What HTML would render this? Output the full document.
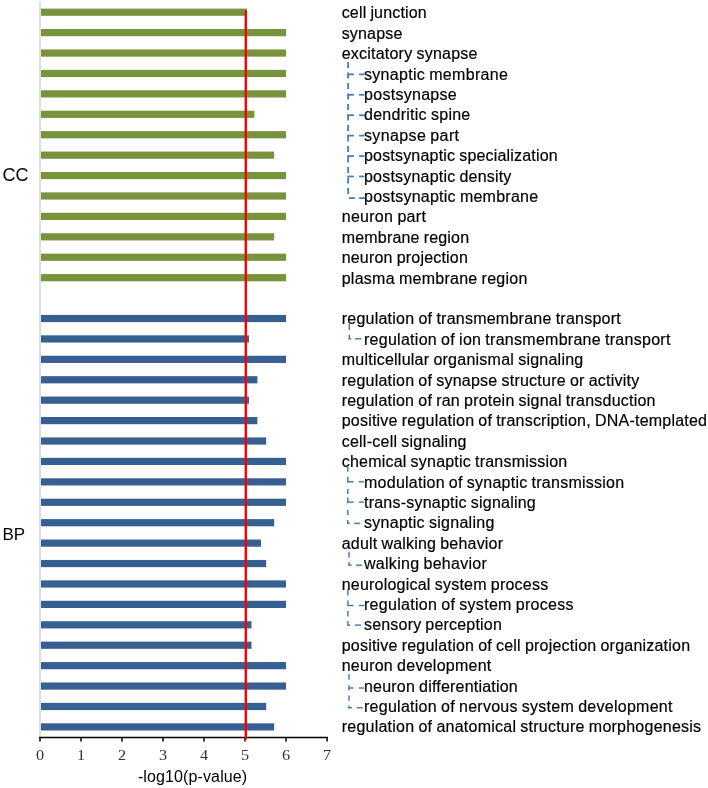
<!DOCTYPE html>
<html><head><meta charset="utf-8"><style>
html,body{margin:0;padding:0;background:#fff;}
body{width:708px;height:788px;position:relative;overflow:hidden;}
svg{position:absolute;left:0;top:0;}
.t{position:absolute;font-family:"Liberation Sans",sans-serif;font-size:16px;line-height:20px;word-spacing:-0.6px;white-space:nowrap;color:#000;-webkit-text-stroke:0.2px #000;}
.n{position:absolute;width:40px;text-align:center;font-family:"Liberation Serif",serif;font-size:14.5px;line-height:16px;color:#333;transform:scaleX(1.12);}
.g{position:absolute;font-family:"Liberation Sans",sans-serif;font-size:18px;line-height:20px;color:#000;}
.x{position:absolute;font-family:"Liberation Sans",sans-serif;font-size:16px;line-height:20px;color:#000;white-space:nowrap;letter-spacing:0.12px;}
</style></head><body>
<svg width="708" height="788" viewBox="0 0 708 788">
<rect x="40" y="8.61" width="207.00" height="7.2" fill="#77933C"/>
<rect x="40" y="29.03" width="246.00" height="7.2" fill="#77933C"/>
<rect x="40" y="49.45" width="246.00" height="7.2" fill="#77933C"/>
<rect x="40" y="69.87" width="246.00" height="7.2" fill="#77933C"/>
<rect x="40" y="90.29" width="246.00" height="7.2" fill="#77933C"/>
<rect x="40" y="110.71" width="214.40" height="7.2" fill="#77933C"/>
<rect x="40" y="131.13" width="246.00" height="7.2" fill="#77933C"/>
<rect x="40" y="151.55" width="234.20" height="7.2" fill="#77933C"/>
<rect x="40" y="171.97" width="246.00" height="7.2" fill="#77933C"/>
<rect x="40" y="192.39" width="246.00" height="7.2" fill="#77933C"/>
<rect x="40" y="212.81" width="246.00" height="7.2" fill="#77933C"/>
<rect x="40" y="233.23" width="234.20" height="7.2" fill="#77933C"/>
<rect x="40" y="253.65" width="246.00" height="7.2" fill="#77933C"/>
<rect x="40" y="274.07" width="246.00" height="7.2" fill="#77933C"/>
<rect x="40" y="314.91" width="246.00" height="7.2" fill="#376092"/>
<rect x="40" y="335.33" width="209.00" height="7.2" fill="#376092"/>
<rect x="40" y="355.75" width="246.00" height="7.2" fill="#376092"/>
<rect x="40" y="376.17" width="217.40" height="7.2" fill="#376092"/>
<rect x="40" y="396.59" width="209.00" height="7.2" fill="#376092"/>
<rect x="40" y="417.01" width="217.40" height="7.2" fill="#376092"/>
<rect x="40" y="437.43" width="226.20" height="7.2" fill="#376092"/>
<rect x="40" y="457.85" width="246.00" height="7.2" fill="#376092"/>
<rect x="40" y="478.27" width="246.00" height="7.2" fill="#376092"/>
<rect x="40" y="498.69" width="246.00" height="7.2" fill="#376092"/>
<rect x="40" y="519.11" width="234.20" height="7.2" fill="#376092"/>
<rect x="40" y="539.53" width="221.00" height="7.2" fill="#376092"/>
<rect x="40" y="559.95" width="226.20" height="7.2" fill="#376092"/>
<rect x="40" y="580.37" width="246.00" height="7.2" fill="#376092"/>
<rect x="40" y="600.79" width="246.00" height="7.2" fill="#376092"/>
<rect x="40" y="621.21" width="211.50" height="7.2" fill="#376092"/>
<rect x="40" y="641.63" width="211.50" height="7.2" fill="#376092"/>
<rect x="40" y="662.05" width="246.00" height="7.2" fill="#376092"/>
<rect x="40" y="682.47" width="246.00" height="7.2" fill="#376092"/>
<rect x="40" y="702.89" width="226.20" height="7.2" fill="#376092"/>
<rect x="40" y="723.31" width="234.20" height="7.2" fill="#376092"/>
<rect x="39" y="1.5" width="2" height="736" fill="#DDDDDD"/>
<line x1="39.2" y1="737.4" x2="327.8" y2="737.4" stroke="#000" stroke-width="1.5"/>
<line x1="40.00" y1="737" x2="40.00" y2="741.5" stroke="#000" stroke-width="1.5"/>
<line x1="81.00" y1="737" x2="81.00" y2="741.5" stroke="#000" stroke-width="1.5"/>
<line x1="122.00" y1="737" x2="122.00" y2="741.5" stroke="#000" stroke-width="1.5"/>
<line x1="163.00" y1="737" x2="163.00" y2="741.5" stroke="#000" stroke-width="1.5"/>
<line x1="204.00" y1="737" x2="204.00" y2="741.5" stroke="#000" stroke-width="1.5"/>
<line x1="245.00" y1="737" x2="245.00" y2="741.5" stroke="#000" stroke-width="1.5"/>
<line x1="286.00" y1="737" x2="286.00" y2="741.5" stroke="#000" stroke-width="1.5"/>
<line x1="327.10" y1="737" x2="327.10" y2="741.5" stroke="#000" stroke-width="1.5"/>
<line x1="245.8" y1="11.5" x2="245.8" y2="738.5" stroke="#FF0000" stroke-width="2.4" stroke-linecap="round"/>
<line x1="348.1" y1="62.0" x2="348.1" y2="68.0" stroke="#4A7EBB" stroke-width="1.8"/>
<line x1="348.1" y1="72.5" x2="348.1" y2="78.5" stroke="#4A7EBB" stroke-width="1.8"/>
<line x1="348.1" y1="83.0" x2="348.1" y2="89.0" stroke="#4A7EBB" stroke-width="1.8"/>
<line x1="348.1" y1="93.5" x2="348.1" y2="99.5" stroke="#4A7EBB" stroke-width="1.8"/>
<line x1="348.1" y1="104.0" x2="348.1" y2="110.0" stroke="#4A7EBB" stroke-width="1.8"/>
<line x1="348.1" y1="114.5" x2="348.1" y2="120.5" stroke="#4A7EBB" stroke-width="1.8"/>
<line x1="348.1" y1="125.0" x2="348.1" y2="131.0" stroke="#4A7EBB" stroke-width="1.8"/>
<line x1="348.1" y1="135.5" x2="348.1" y2="141.5" stroke="#4A7EBB" stroke-width="1.8"/>
<line x1="348.1" y1="146.0" x2="348.1" y2="152.0" stroke="#4A7EBB" stroke-width="1.8"/>
<line x1="348.1" y1="156.5" x2="348.1" y2="162.5" stroke="#4A7EBB" stroke-width="1.8"/>
<line x1="348.1" y1="167.0" x2="348.1" y2="173.0" stroke="#4A7EBB" stroke-width="1.8"/>
<line x1="348.1" y1="177.5" x2="348.1" y2="183.5" stroke="#4A7EBB" stroke-width="1.8"/>
<line x1="348.1" y1="188.0" x2="348.1" y2="194.0" stroke="#4A7EBB" stroke-width="1.8"/>
<line x1="347.2" y1="74.37" x2="353.9" y2="74.37" stroke="#4A7EBB" stroke-width="1.8"/>
<line x1="359.1" y1="74.37" x2="364.4" y2="74.37" stroke="#4A7EBB" stroke-width="1.8"/>
<line x1="347.2" y1="94.79000000000002" x2="353.9" y2="94.79000000000002" stroke="#4A7EBB" stroke-width="1.8"/>
<line x1="359.1" y1="94.79000000000002" x2="364.4" y2="94.79000000000002" stroke="#4A7EBB" stroke-width="1.8"/>
<line x1="347.2" y1="115.21000000000001" x2="353.9" y2="115.21000000000001" stroke="#4A7EBB" stroke-width="1.8"/>
<line x1="359.1" y1="115.21000000000001" x2="364.4" y2="115.21000000000001" stroke="#4A7EBB" stroke-width="1.8"/>
<line x1="347.2" y1="135.63000000000002" x2="353.9" y2="135.63000000000002" stroke="#4A7EBB" stroke-width="1.8"/>
<line x1="359.1" y1="135.63000000000002" x2="364.4" y2="135.63000000000002" stroke="#4A7EBB" stroke-width="1.8"/>
<line x1="347.2" y1="156.05" x2="353.9" y2="156.05" stroke="#4A7EBB" stroke-width="1.8"/>
<line x1="359.1" y1="156.05" x2="364.4" y2="156.05" stroke="#4A7EBB" stroke-width="1.8"/>
<line x1="347.2" y1="176.47000000000003" x2="353.9" y2="176.47000000000003" stroke="#4A7EBB" stroke-width="1.8"/>
<line x1="359.1" y1="176.47000000000003" x2="364.4" y2="176.47000000000003" stroke="#4A7EBB" stroke-width="1.8"/>
<line x1="348.9" y1="198.1" x2="354.9" y2="198.1" stroke="#4A7EBB" stroke-width="1.8"/>
<line x1="359.1" y1="198.1" x2="365.0" y2="198.1" stroke="#4A7EBB" stroke-width="1.8"/>
<line x1="349.3" y1="323.8" x2="349.3" y2="330" stroke="#4A7EBB" stroke-width="1.5"/>
<line x1="349.3" y1="334.8" x2="349.3" y2="339.4" stroke="#4A7EBB" stroke-width="1.5"/>
<line x1="348.6" y1="338.8" x2="351.2" y2="338.8" stroke="#4A7EBB" stroke-width="1.5"/>
<line x1="355" y1="338.8" x2="361.4" y2="338.8" stroke="#4A7EBB" stroke-width="1.5"/>
<line x1="347.8" y1="466.7" x2="347.8" y2="471.8" stroke="#4A7EBB" stroke-width="1.5"/>
<line x1="347.8" y1="476.8" x2="347.8" y2="482.4" stroke="#4A7EBB" stroke-width="1.5"/>
<line x1="347.8" y1="489" x2="347.8" y2="494" stroke="#4A7EBB" stroke-width="1.5"/>
<line x1="347.8" y1="497.6" x2="347.8" y2="503.2" stroke="#4A7EBB" stroke-width="1.5"/>
<line x1="347.8" y1="509.8" x2="347.8" y2="514.9" stroke="#4A7EBB" stroke-width="1.5"/>
<line x1="347.8" y1="520" x2="347.8" y2="524" stroke="#4A7EBB" stroke-width="1.5"/>
<line x1="347.1" y1="481.8" x2="353.7" y2="481.8" stroke="#4A7EBB" stroke-width="1.5"/>
<line x1="358.8" y1="481.8" x2="363.9" y2="481.8" stroke="#4A7EBB" stroke-width="1.5"/>
<line x1="347.1" y1="502.1" x2="353.7" y2="502.1" stroke="#4A7EBB" stroke-width="1.5"/>
<line x1="358.8" y1="502.1" x2="363.9" y2="502.1" stroke="#4A7EBB" stroke-width="1.5"/>
<line x1="347.1" y1="523.4" x2="349.8" y2="523.4" stroke="#4A7EBB" stroke-width="1.5"/>
<line x1="354.2" y1="523.4" x2="360.3" y2="523.4" stroke="#4A7EBB" stroke-width="1.5"/>
<line x1="349" y1="551.7" x2="349" y2="557.8" stroke="#4A7EBB" stroke-width="1.5"/>
<line x1="349" y1="562" x2="349" y2="565.8" stroke="#4A7EBB" stroke-width="1.5"/>
<line x1="348.3" y1="565.2" x2="351.7" y2="565.2" stroke="#4A7EBB" stroke-width="1.5"/>
<line x1="356.1" y1="565.2" x2="362.2" y2="565.2" stroke="#4A7EBB" stroke-width="1.5"/>
<line x1="347.9" y1="589" x2="347.9" y2="595.6" stroke="#4A7EBB" stroke-width="1.5"/>
<line x1="347.9" y1="600.4" x2="347.9" y2="605.8" stroke="#4A7EBB" stroke-width="1.5"/>
<line x1="347.9" y1="610.9" x2="347.9" y2="616.6" stroke="#4A7EBB" stroke-width="1.5"/>
<line x1="347.9" y1="621" x2="347.9" y2="625.8" stroke="#4A7EBB" stroke-width="1.5"/>
<line x1="347.2" y1="605.5" x2="353.6" y2="605.5" stroke="#4A7EBB" stroke-width="1.5"/>
<line x1="359" y1="605.5" x2="364.4" y2="605.5" stroke="#4A7EBB" stroke-width="1.5"/>
<line x1="347.2" y1="625.1" x2="350.2" y2="625.1" stroke="#4A7EBB" stroke-width="1.5"/>
<line x1="354.9" y1="625.1" x2="360.9" y2="625.1" stroke="#4A7EBB" stroke-width="1.5"/>
<line x1="349" y1="674" x2="349" y2="679.8" stroke="#4A7EBB" stroke-width="1.5"/>
<line x1="349" y1="685.2" x2="349" y2="690.5" stroke="#4A7EBB" stroke-width="1.5"/>
<line x1="349" y1="695.5" x2="349" y2="700.8" stroke="#4A7EBB" stroke-width="1.5"/>
<line x1="349" y1="705.4" x2="349" y2="708.4" stroke="#4A7EBB" stroke-width="1.5"/>
<line x1="348.3" y1="688" x2="353.6" y2="688" stroke="#4A7EBB" stroke-width="1.5"/>
<line x1="359" y1="688" x2="364" y2="688" stroke="#4A7EBB" stroke-width="1.5"/>
<line x1="348.3" y1="707.7" x2="352.1" y2="707.7" stroke="#4A7EBB" stroke-width="1.5"/>
<line x1="356.7" y1="707.7" x2="362.8" y2="707.7" stroke="#4A7EBB" stroke-width="1.5"/>
</svg>
<div style="position:absolute;left:0;top:0;width:708px;height:788px;will-change:transform">
<div class="t" style="top:3.45px;left:341.7px;letter-spacing:0.167px">cell junction</div>
<div class="t" style="top:23.85px;left:341.7px;letter-spacing:0.167px">synapse</div>
<div class="t" style="top:44.25px;left:341.7px;letter-spacing:0.224px">excitatory synapse</div>
<div class="t" style="top:64.65px;left:364.0px;letter-spacing:0.300px">synaptic membrane</div>
<div class="t" style="top:85.05px;left:364.0px;letter-spacing:0.290px">postsynapse</div>
<div class="t" style="top:105.45px;left:364.0px;letter-spacing:0.264px">dendritic spine</div>
<div class="t" style="top:125.85px;left:364.0px;letter-spacing:0.364px">synapse part</div>
<div class="t" style="top:146.25px;left:364.0px;letter-spacing:0.188px">postsynaptic specialization</div>
<div class="t" style="top:166.65px;left:364.0px;letter-spacing:0.205px">postsynaptic density</div>
<div class="t" style="top:187.05px;left:364.0px;letter-spacing:0.240px">postsynaptic membrane</div>
<div class="t" style="top:207.45px;left:341.7px;letter-spacing:0.290px">neuron part</div>
<div class="t" style="top:227.85px;left:341.7px;letter-spacing:0.186px">membrane region</div>
<div class="t" style="top:248.25px;left:341.7px;letter-spacing:0.194px">neuron projection</div>
<div class="t" style="top:268.65px;left:341.7px;letter-spacing:0.257px">plasma membrane region</div>
<div class="t" style="top:309.45px;left:341.7px;letter-spacing:0.242px">regulation of transmembrane transport</div>
<div class="t" style="top:329.85px;left:364.0px;letter-spacing:0.270px">regulation of ion transmembrane transport</div>
<div class="t" style="top:350.25px;left:341.7px;letter-spacing:0.242px">multicellular organismal signaling</div>
<div class="t" style="top:370.65px;left:341.7px;letter-spacing:0.231px">regulation of synapse structure or activity</div>
<div class="t" style="top:391.05px;left:341.7px;letter-spacing:0.225px">regulation of ran protein signal transduction</div>
<div class="t" style="top:411.45px;left:341.7px;letter-spacing:0.222px">positive regulation of transcription, DNA-templated</div>
<div class="t" style="top:431.85px;left:341.7px;letter-spacing:0.244px">cell-cell signaling</div>
<div class="t" style="top:452.25px;left:341.7px;letter-spacing:0.214px">chemical synaptic transmission</div>
<div class="t" style="top:472.65px;left:364.0px;letter-spacing:0.250px">modulation of synaptic transmission</div>
<div class="t" style="top:493.05px;left:364.0px;letter-spacing:0.222px">trans-synaptic signaling</div>
<div class="t" style="top:513.45px;left:364.0px;letter-spacing:0.271px">synaptic signaling</div>
<div class="t" style="top:533.85px;left:341.7px;letter-spacing:0.200px">adult walking behavior</div>
<div class="t" style="top:554.25px;left:364.0px;letter-spacing:0.287px">walking behavior</div>
<div class="t" style="top:574.65px;left:341.7px;letter-spacing:0.223px">neurological system process</div>
<div class="t" style="top:595.05px;left:364.0px;letter-spacing:0.285px">regulation of system process</div>
<div class="t" style="top:615.45px;left:364.0px;letter-spacing:0.188px">sensory perception</div>
<div class="t" style="top:635.85px;left:341.7px;letter-spacing:0.214px">positive regulation of cell projection organization</div>
<div class="t" style="top:656.25px;left:341.7px;letter-spacing:0.253px">neuron development</div>
<div class="t" style="top:676.65px;left:364.0px;letter-spacing:0.205px">neuron differentiation</div>
<div class="t" style="top:697.05px;left:364.0px;letter-spacing:0.262px">regulation of nervous system development</div>
<div class="t" style="top:717.45px;left:341.7px;letter-spacing:0.243px">regulation of anatomical structure morphogenesis</div>
<div class="n" style="left:20.00px;top:747px">0</div>
<div class="n" style="left:61.00px;top:747px">1</div>
<div class="n" style="left:102.00px;top:747px">2</div>
<div class="n" style="left:143.00px;top:747px">3</div>
<div class="n" style="left:184.00px;top:747px">4</div>
<div class="n" style="left:225.00px;top:747px">5</div>
<div class="n" style="left:266.00px;top:747px">6</div>
<div class="n" style="left:307.00px;top:747px">7</div>
<div class="g" style="left:2.5px;top:165px">CC</div>
<div class="g" style="left:2.5px;top:524.5px;font-size:17px">BP</div>
<div class="x" style="left:137.9px;top:767.4px">-log10(p-value)</div>
</div>
</body></html>
